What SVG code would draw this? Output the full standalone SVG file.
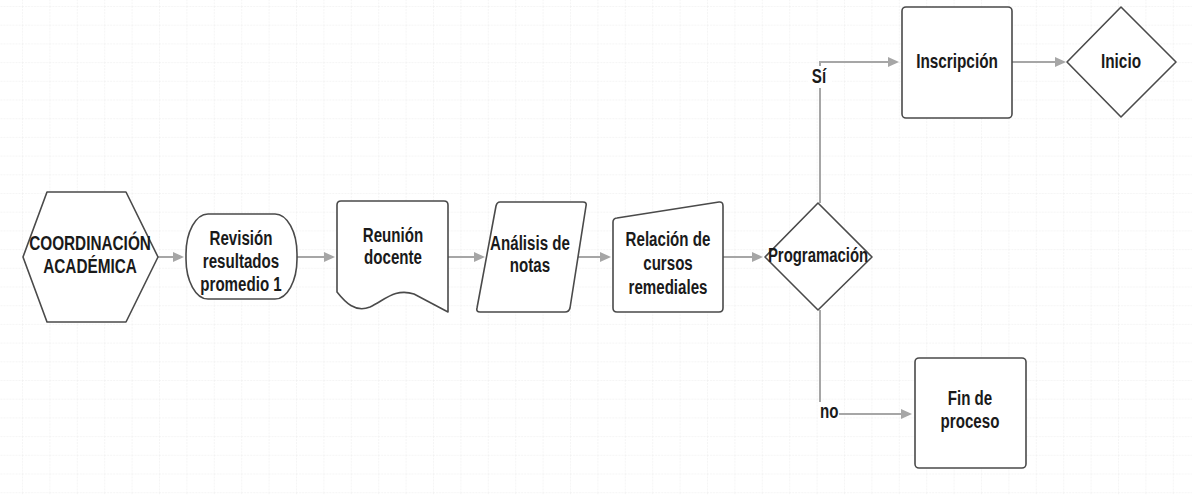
<svg xmlns="http://www.w3.org/2000/svg" width="1192" height="495" viewBox="0 0 1192 495">
<style>
.shape{fill:#ffffff;stroke:#4a4a4a;stroke-width:1.6;stroke-linejoin:round}
.conn{fill:none;stroke:#a6a6a6;stroke-width:2}
.t{font-family:"Liberation Sans",Arial,sans-serif;font-size:21px;font-weight:bold;fill:#1a1a1a;text-anchor:middle}
.lbl{font-family:"Liberation Sans",Arial,sans-serif;font-size:21px;font-weight:bold;fill:#1a1a1a}
</style>
<defs>
<pattern id="grid" x="22" y="6" width="27.4" height="18.7" patternUnits="userSpaceOnUse">
<path d="M0,0 L27.4,0 M0,0 L0,18.7" fill="none" stroke="#ebebeb" stroke-width="1" stroke-dasharray="2,1"/>
</pattern>
<marker id="arr" markerUnits="userSpaceOnUse" markerWidth="12" markerHeight="12" viewBox="0 0 12 12" refX="9" refY="6" orient="auto">
<path d="M0,1 L11,6 L0,11 Z" fill="#a6a6a6"/>
</marker>
</defs>
<rect width="1192" height="495" fill="#ffffff"/>
<rect width="1192" height="495" fill="url(#grid)"/>

<g id="connectors">
<line class="conn" x1="158" y1="257" x2="182" y2="257" marker-end="url(#arr)"/>
<line class="conn" x1="297" y1="257" x2="333" y2="257" marker-end="url(#arr)"/>
<line class="conn" x1="448" y1="257" x2="483" y2="257" marker-end="url(#arr)"/>
<line class="conn" x1="578" y1="257" x2="609" y2="257" marker-end="url(#arr)"/>
<line class="conn" x1="723" y1="257" x2="761" y2="257" marker-end="url(#arr)"/>
<path class="conn" d="M820,203 L820,62 L897,62" marker-end="url(#arr)"/>
<line class="conn" x1="1012" y1="62" x2="1064" y2="62" marker-end="url(#arr)"/>
<path class="conn" d="M820,310 L820,414 L910,414" marker-end="url(#arr)"/>
<rect x="808" y="66" width="24" height="22" fill="#ffffff"/>
<text class="lbl" transform="translate(819,0) scale(0.72,1)" x="0" y="83" text-anchor="middle">Sí</text>
<rect x="818" y="402" width="21" height="19" fill="#ffffff"/>
<text class="lbl" transform="translate(820,0) scale(0.72,1)" x="0" y="418">no</text>
</g>

<g id="coordinacion">
<path class="shape" d="M47,192 L126,192 L158,257 L126,322 L47,322 L23,257 Z"/>
<text class="t" transform="translate(90,0) scale(0.73,1)"><tspan x="0" y="250">COORDINACIÓN</tspan><tspan x="0" y="273">ACADÉMICA</tspan></text>
</g>

<g id="revision">
<rect class="shape" x="186" y="214" width="111" height="85" rx="22" ry="40"/>
<text class="t" transform="translate(241,0) scale(0.72,1)"><tspan x="0" y="245">Revisión</tspan><tspan x="0" y="268">resultados</tspan><tspan x="0" y="291">promedio 1</tspan></text>
</g>

<g id="reunion">
<path class="shape" d="M337,292 L337,205 Q337,201 341,201 L444,201 Q448,201 448,205 L448,312 L414,294 C395,288 385,300 370,307 C355,313 345,302 337,292 Z"/>
<text class="t" transform="translate(393,0) scale(0.72,1)"><tspan x="0" y="242">Reunión</tspan><tspan x="0" y="264">docente</tspan></text>
</g>

<g id="analisis">
<path class="shape" d="M500,202 L583,202 Q587,202 586,206 L570,308 Q569,312 565,312 L480,312 Q476,312 477,308 L496,206 Q497,202 500,202 Z"/>
<text class="t" transform="translate(530,0) scale(0.72,1)"><tspan x="0" y="250">Análisis de</tspan><tspan x="0" y="272">notas</tspan></text>
</g>

<g id="relacion">
<path class="shape" d="M617,218 L719,202 Q723,201.5 723,206 L723,308 Q723,312 719,312 L617,312 Q613,312 613,308 L613,222 Q613,218.5 617,218 Z"/>
<text class="t" transform="translate(668,0) scale(0.72,1)"><tspan x="0" y="246">Relación de</tspan><tspan x="0" y="270">cursos</tspan><tspan x="0" y="294">remediales</tspan></text>
</g>

<g id="programacion">
<path class="shape" d="M818,203 L872,257 L818,310 L765,257 Z"/>
<text class="t" transform="translate(818,0) scale(0.71,1)" x="0" y="262">Programación</text>
</g>

<g id="inscripcion">
<rect class="shape" x="902" y="7" width="110" height="111" rx="4"/>
<text class="t" transform="translate(957,0) scale(0.73,1)" x="0" y="68">Inscripción</text>
</g>

<g id="inicio">
<path class="shape" d="M1121,7 L1176,62 L1121,117 L1067,62 Z"/>
<text class="t" transform="translate(1121,0) scale(0.73,1)" x="0" y="68">Inicio</text>
</g>

<g id="fin">
<rect class="shape" x="915" y="358" width="111" height="110" rx="4"/>
<text class="t" transform="translate(970,0) scale(0.72,1)"><tspan x="0" y="405">Fin de</tspan><tspan x="0" y="428">proceso</tspan></text>
</g>
</svg>
